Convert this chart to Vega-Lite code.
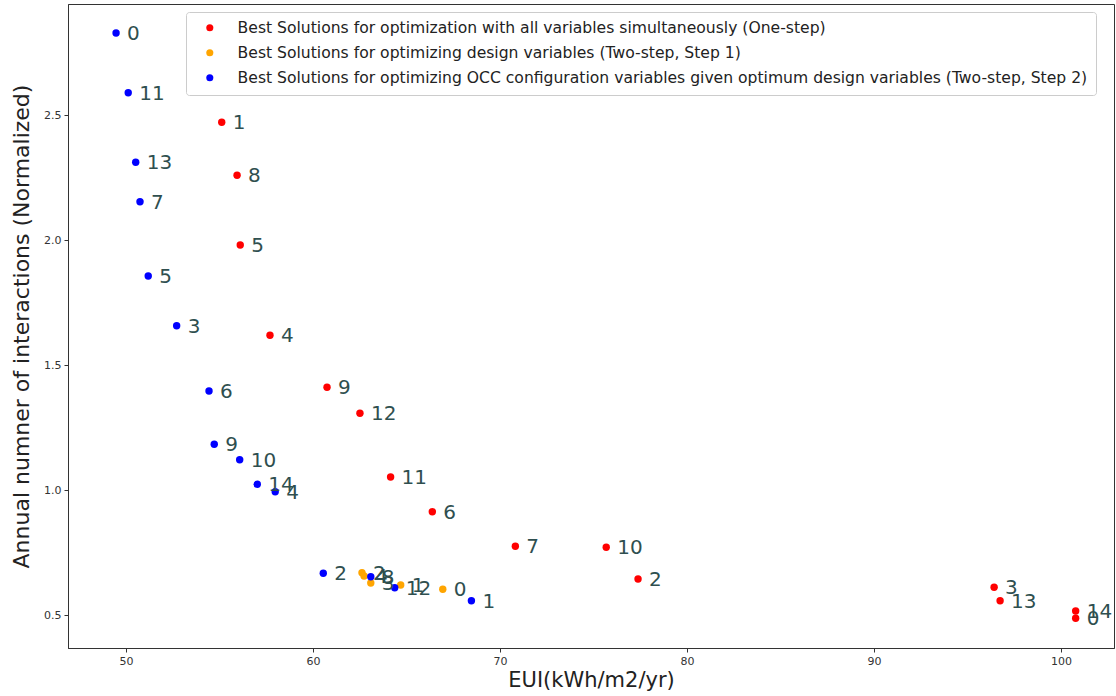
{
  "$schema": "https://vega.github.io/schema/vega-lite/v6.json",
  "width": 1046,
  "height": 644,
  "autosize": {"type": "none"},
  "padding": {"left": 68, "top": 4, "right": 2, "bottom": 48},
  "background": "white",
  "config": {
    "font": "DejaVu Sans",
    "view": {"stroke": "#333333", "strokeWidth": 1}
  },
  "data": {
    "values": [
      {"series": "Best Solutions for optimization with all variables simultaneously (One-step)", "idx": "0", "eui": 100.78, "inter": 0.487},
      {"series": "Best Solutions for optimization with all variables simultaneously (One-step)", "idx": "1", "eui": 55.12, "inter": 2.471},
      {"series": "Best Solutions for optimization with all variables simultaneously (One-step)", "idx": "2", "eui": 77.38, "inter": 0.644},
      {"series": "Best Solutions for optimization with all variables simultaneously (One-step)", "idx": "3", "eui": 96.42, "inter": 0.611},
      {"series": "Best Solutions for optimization with all variables simultaneously (One-step)", "idx": "4", "eui": 57.70, "inter": 1.619},
      {"series": "Best Solutions for optimization with all variables simultaneously (One-step)", "idx": "5", "eui": 56.11, "inter": 1.980},
      {"series": "Best Solutions for optimization with all variables simultaneously (One-step)", "idx": "6", "eui": 66.38, "inter": 0.913},
      {"series": "Best Solutions for optimization with all variables simultaneously (One-step)", "idx": "7", "eui": 70.82, "inter": 0.775},
      {"series": "Best Solutions for optimization with all variables simultaneously (One-step)", "idx": "8", "eui": 55.94, "inter": 2.259},
      {"series": "Best Solutions for optimization with all variables simultaneously (One-step)", "idx": "9", "eui": 60.75, "inter": 1.411},
      {"series": "Best Solutions for optimization with all variables simultaneously (One-step)", "idx": "10", "eui": 75.68, "inter": 0.771},
      {"series": "Best Solutions for optimization with all variables simultaneously (One-step)", "idx": "11", "eui": 64.15, "inter": 1.052},
      {"series": "Best Solutions for optimization with all variables simultaneously (One-step)", "idx": "12", "eui": 62.51, "inter": 1.307},
      {"series": "Best Solutions for optimization with all variables simultaneously (One-step)", "idx": "13", "eui": 96.74, "inter": 0.557},
      {"series": "Best Solutions for optimization with all variables simultaneously (One-step)", "idx": "14", "eui": 100.78, "inter": 0.516},
      {"series": "Best Solutions for optimizing design variables (Two-step, Step 1)", "idx": "0", "eui": 66.94, "inter": 0.603},
      {"series": "Best Solutions for optimizing design variables (Two-step, Step 1)", "idx": "1", "eui": 64.69, "inter": 0.620},
      {"series": "Best Solutions for optimizing design variables (Two-step, Step 1)", "idx": "2", "eui": 62.62, "inter": 0.669},
      {"series": "Best Solutions for optimizing design variables (Two-step, Step 1)", "idx": "3", "eui": 63.09, "inter": 0.628},
      {"series": "Best Solutions for optimizing design variables (Two-step, Step 1)", "idx": "4", "eui": 62.73, "inter": 0.656},
      {"series": "Best Solutions for optimizing OCC configuration variables given optimum design variables (Two-step, Step 2)", "idx": "0", "eui": 49.47, "inter": 2.828},
      {"series": "Best Solutions for optimizing OCC configuration variables given optimum design variables (Two-step, Step 2)", "idx": "1", "eui": 68.47, "inter": 0.557},
      {"series": "Best Solutions for optimizing OCC configuration variables given optimum design variables (Two-step, Step 2)", "idx": "2", "eui": 60.55, "inter": 0.667},
      {"series": "Best Solutions for optimizing OCC configuration variables given optimum design variables (Two-step, Step 2)", "idx": "3", "eui": 52.71, "inter": 1.657},
      {"series": "Best Solutions for optimizing OCC configuration variables given optimum design variables (Two-step, Step 2)", "idx": "4", "eui": 57.98, "inter": 0.993},
      {"series": "Best Solutions for optimizing OCC configuration variables given optimum design variables (Two-step, Step 2)", "idx": "5", "eui": 51.19, "inter": 1.856},
      {"series": "Best Solutions for optimizing OCC configuration variables given optimum design variables (Two-step, Step 2)", "idx": "6", "eui": 54.44, "inter": 1.396},
      {"series": "Best Solutions for optimizing OCC configuration variables given optimum design variables (Two-step, Step 2)", "idx": "7", "eui": 50.75, "inter": 2.153},
      {"series": "Best Solutions for optimizing OCC configuration variables given optimum design variables (Two-step, Step 2)", "idx": "8", "eui": 63.09, "inter": 0.653},
      {"series": "Best Solutions for optimizing OCC configuration variables given optimum design variables (Two-step, Step 2)", "idx": "9", "eui": 54.72, "inter": 1.183},
      {"series": "Best Solutions for optimizing OCC configuration variables given optimum design variables (Two-step, Step 2)", "idx": "10", "eui": 56.08, "inter": 1.121},
      {"series": "Best Solutions for optimizing OCC configuration variables given optimum design variables (Two-step, Step 2)", "idx": "11", "eui": 50.12, "inter": 2.589},
      {"series": "Best Solutions for optimizing OCC configuration variables given optimum design variables (Two-step, Step 2)", "idx": "12", "eui": 64.37, "inter": 0.609},
      {"series": "Best Solutions for optimizing OCC configuration variables given optimum design variables (Two-step, Step 2)", "idx": "13", "eui": 50.52, "inter": 2.311},
      {"series": "Best Solutions for optimizing OCC configuration variables given optimum design variables (Two-step, Step 2)", "idx": "14", "eui": 57.02, "inter": 1.023}
    ]
  },
  "encoding": {
    "x": {
      "field": "eui", "type": "quantitative",
      "scale": {"domain": [46.9, 102.83], "nice": false, "zero": false},
      "axis": {
        "title": "EUI(kWh/m2/yr)", "titleFontSize": 21, "titleFontWeight": "normal", "titleColor": "#222222", "titlePadding": 3,
        "values": [50, 60, 70, 80, 90, 100], "format": "d",
        "labelFontSize": 11, "labelColor": "#333333", "grid": false,
        "domainColor": "#333333", "tickColor": "#333333", "tickSize": 4, "labelPadding": 3
      }
    },
    "y": {
      "field": "inter", "type": "quantitative",
      "scale": {"domain": [0.368, 2.944], "nice": false, "zero": false},
      "axis": {
        "title": "Annual numner of interactions (Normalized)", "titleFontSize": 22, "titleFontWeight": "normal", "titleColor": "#222222", "titlePadding": 10,
        "values": [0.5, 1.0, 1.5, 2.0, 2.5], "format": ".1f",
        "labelFontSize": 11, "labelColor": "#333333", "grid": false,
        "domainColor": "#333333", "tickColor": "#333333", "tickSize": 4, "labelPadding": 3
      }
    }
  },
  "layer": [
    {
      "mark": {"type": "circle", "size": 55, "opacity": 1},
      "encoding": {
        "color": {
          "field": "series", "type": "nominal",
          "scale": {
            "domain": [
              "Best Solutions for optimization with all variables simultaneously (One-step)",
              "Best Solutions for optimizing design variables (Two-step, Step 1)",
              "Best Solutions for optimizing OCC configuration variables given optimum design variables (Two-step, Step 2)"
            ],
            "range": ["#ff0000", "#ffa500", "#0000ff"]
          },
          "legend": {
            "title": null, "orient": "none", "legendX": 118, "legendY": 8,
            "labelFontSize": 15.6, "labelColor": "#222222", "labelLimit": 1000,
            "symbolType": "circle", "symbolSize": 50, "symbolStrokeWidth": 0,
            "strokeColor": "#cccccc", "fillColor": "white", "cornerRadius": 3,
            "padding": 8, "rowPadding": 8, "symbolOffset": 8, "labelOffset": 20
          }
        }
      }
    },
    {
      "mark": {"type": "text", "align": "left", "baseline": "middle", "dx": 11, "dy": 1, "fontSize": 20, "color": "#2f4f4f"},
      "encoding": {"text": {"field": "idx"}}
    }
  ]
}
